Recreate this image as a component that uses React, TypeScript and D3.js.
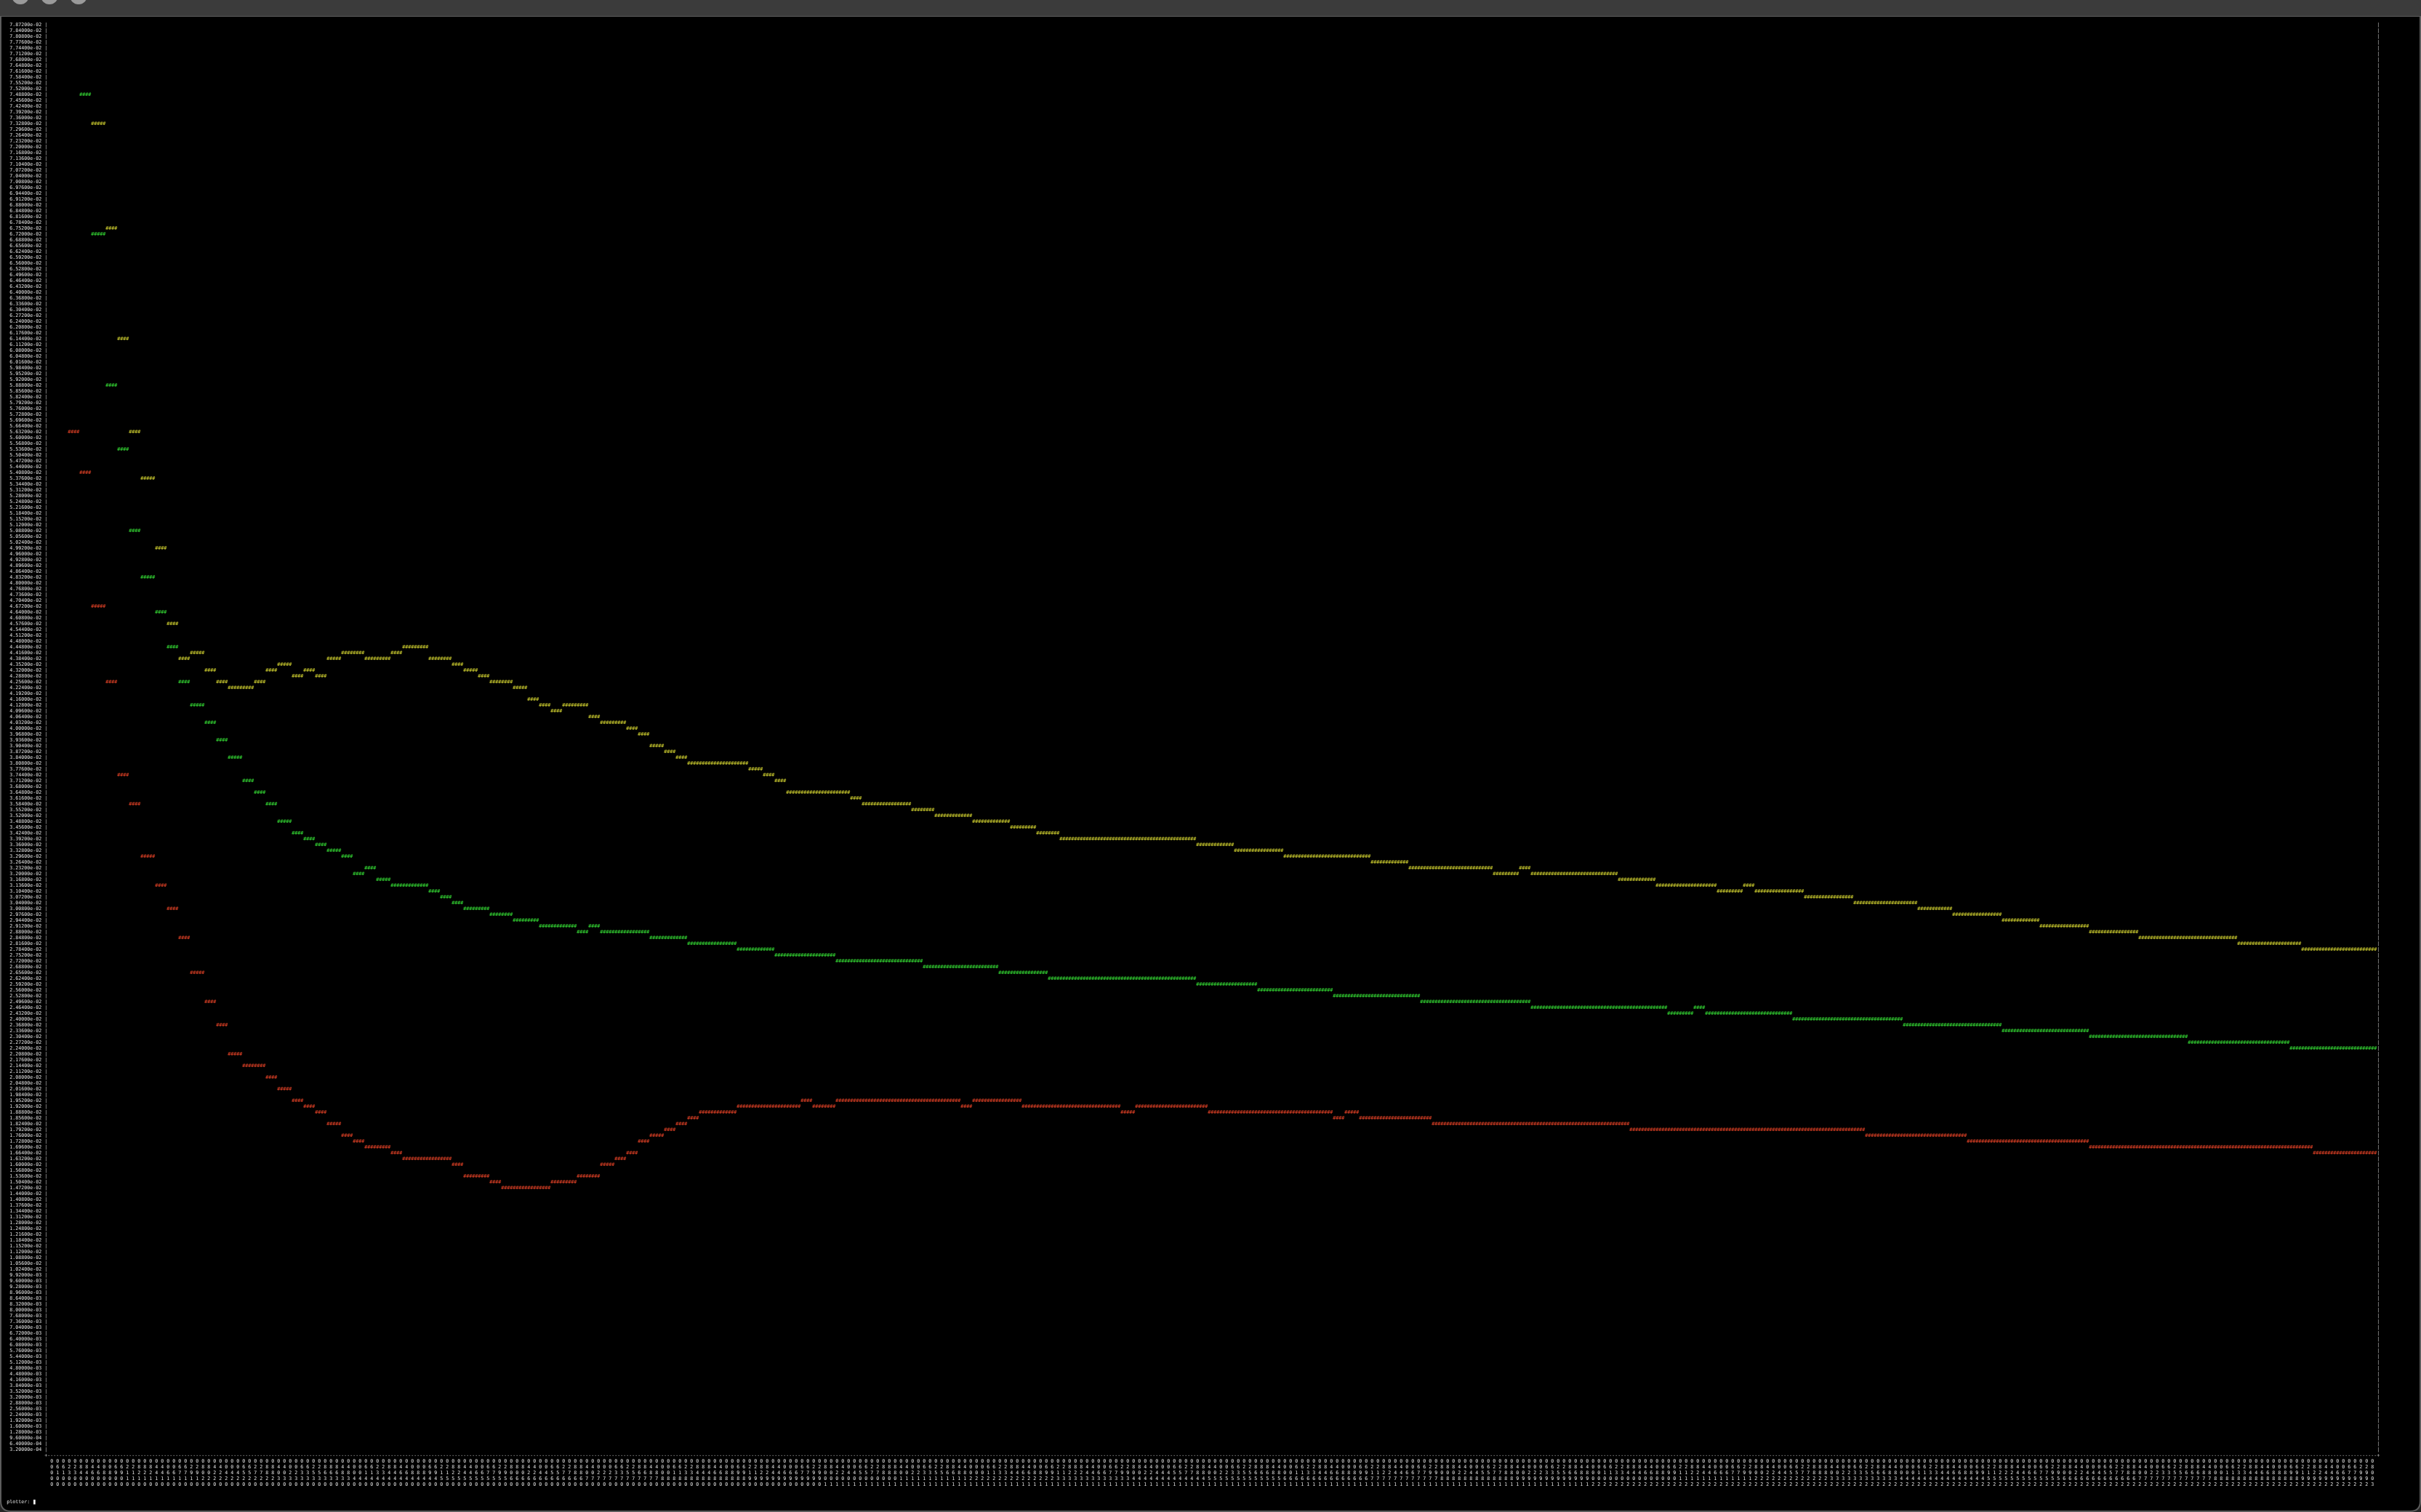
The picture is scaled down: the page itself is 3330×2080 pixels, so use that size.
import React from 'react'
import * as d3 from 'd3'

// sample counts on the x axis, one point every 160
const xSamples = d3.range(0, 30081, 160)

// y tick labels, top to bottom (246 terminal rows)
const yTicks = d3.range(246, 0, -1).map(n => n * 3.2e-4)

// series values, one per sample (null = not plotted)
const yellow = [
  null, null, null, null,
  .07328, .06752, .06144, .05632, .05376, .04992, .04576,
  .04384, .04416, .04320, .04256, .04224, .04224, .04256, .04320, .04352, .04288,
  .04320, .04288, .04384, .04416, .04416, .04384, .04384, .04416, .04448, .04448,
  .04384, .04384, .04352, .04320, .04288, .04256, .04256, .04224, .04160, .04128,
  .04096, .04128, .04128, .04064, .04032, .04032, .04000, .03968, .03904, .03872,
  .03840, .03808, .03808, .03808, .03808, .03808, .03776, .03744, .03712, .03648,
  .03648, .03648, .03648, .03648, .03616, .03584, .03584, .03584, .03584, .03552,
  .03552, .03520, .03520, .03520, .03488, .03488, .03488, .03456, .03456, .03424,
  .03424, .03392, .03392, .03392, .03392, .03392, .03392, .03392, .03392, .03392,
  .03392, .03392, .03360, .03360, .03360, .03328, .03328, .03328, .03328, .03296,
  .03296, .03296, .03296, .03296, .03296, .03296, .03264, .03264, .03264, .03232,
  .03232, .03232, .03232, .03232, .03232, .03232, .03200, .03200, .03232, .03200,
  .03200, .03200, .03200, .03200, .03200, .03200, .03168, .03168, .03168, .03136,
  .03136, .03136, .03136, .03136, .03104, .03104, .03136, .03104, .03104, .03104,
  .03104, .03072, .03072, .03072, .03072, .03040, .03040, .03040, .03040, .03040,
  .03008, .03008, .03008, .02976, .02976, .02976, .02976, .02944, .02944, .02944,
  .02912, .02912, .02912, .02912, .02880, .02880, .02880, .02880, .02848, .02848,
  .02848, .02848, .02848, .02848, .02848, .02848, .02816, .02816, .02816, .02816,
  .02816, .02784, .02784, .02784, .02784, .02784, .02784, .02784,
]

const green = [
  null, null, null,
  .07488, .06720, .05888, .05536, .05088, .04832, .04640, .04448,
  .04256, .04128, .04032, .03936, .03840, .03712, .03648, .03584, .03488, .03424,
  .03392, .03360, .03328, .03296, .03200, .03232, .03168, .03136, .03136, .03136,
  .03104, .03072, .03040, .03008, .03008, .02976, .02976, .02944, .02944, .02912,
  .02912, .02912, .02880, .02912, .02880, .02880, .02880, .02880, .02848, .02848,
  .02848, .02816, .02816, .02816, .02816, .02784, .02784, .02784, .02752, .02752,
  .02752, .02752, .02752, .02720, .02720, .02720, .02720, .02720, .02720, .02720,
  .02688, .02688, .02688, .02688, .02688, .02688, .02656, .02656, .02656, .02656,
  .02624, .02624, .02624, .02624, .02624, .02624, .02624, .02624, .02624, .02624,
  .02624, .02624, .02592, .02592, .02592, .02592, .02592, .02560, .02560, .02560,
  .02560, .02560, .02560, .02528, .02528, .02528, .02528, .02528, .02528, .02528,
  .02496, .02496, .02496, .02496, .02496, .02496, .02496, .02496, .02496, .02464,
  .02464, .02464, .02464, .02464, .02464, .02464, .02464, .02464, .02464, .02464,
  .02432, .02432, .02464, .02432, .02432, .02432, .02432, .02432, .02432, .02432,
  .02400, .02400, .02400, .02400, .02400, .02400, .02400, .02400, .02400, .02368,
  .02368, .02368, .02368, .02368, .02368, .02368, .02368, .02336, .02336, .02336,
  .02336, .02336, .02336, .02336, .02304, .02304, .02304, .02304, .02304, .02304,
  .02304, .02304, .02272, .02272, .02272, .02272, .02272, .02272, .02272, .02272,
  .02240, .02240, .02240, .02240, .02240, .02240, .02240, .02240,
]

const red = [
  null, null,
  .05632, .05408, .04672, .04256, .03744, .03584, .03296, .03136, .03008,
  .02848, .02656, .02496, .02368, .02208, .02144, .02144, .02080, .02016, .01952,
  .01920, .01888, .01824, .01760, .01728, .01696, .01696, .01664, .01632, .01632,
  .01632, .01632, .01600, .01536, .01536, .01504, .01472, .01472, .01472, .01472,
  .01504, .01504, .01536, .01536, .01600, .01632, .01664, .01728, .01760, .01792,
  .01824, .01856, .01888, .01888, .01888, .01920, .01920, .01920, .01920, .01920,
  .01952, .01920, .01920, .01952, .01952, .01952, .01952, .01952, .01952, .01952,
  .01952, .01952, .01952, .01920, .01952, .01952, .01952, .01952, .01920, .01920,
  .01920, .01920, .01920, .01920, .01920, .01920, .01888, .01920, .01920, .01920,
  .01920, .01920, .01920, .01888, .01888, .01888, .01888, .01888, .01888, .01888,
  .01888, .01888, .01888, .01856, .01888, .01856, .01856, .01856, .01856, .01856,
  .01856, .01824, .01824, .01824, .01824, .01824, .01824, .01824, .01824, .01824,
  .01824, .01824, .01824, .01824, .01824, .01824, .01824, .01792, .01792, .01792,
  .01792, .01792, .01792, .01792, .01792, .01792, .01792, .01792, .01792, .01792,
  .01792, .01792, .01792, .01792, .01792, .01792, .01760, .01760, .01760, .01760,
  .01760, .01760, .01760, .01760, .01728, .01728, .01728, .01728, .01728, .01728,
  .01728, .01728, .01728, .01728, .01696, .01696, .01696, .01696, .01696, .01696,
  .01696, .01696, .01696, .01696, .01696, .01696, .01696, .01696, .01696, .01696,
  .01696, .01696, .01664, .01664, .01664, .01664, .01664, .01664,
]

const series = [
  { name: 'yellow', data: yellow, color: '#bcbc2c' },
  { name: 'green', data: green, color: '#2fc42e' },
  { name: 'red', data: red, color: '#cc3b22' },
]

// terminal grid: 4px cells, 8px rows
const col = d3.scaleLinear().domain([0, 1]).range([1.3, 5.3])
const row = d3.scaleLinear().domain([0, 1]).range([35.7, 43.7])
const rowOf = d3.scaleLinear().domain([yTicks[0], yTicks[yTicks.length - 1]]).range([0, yTicks.length - 1])

const W = 3330
const H = 2080
const PLOT_COL = 17
const CELLS = 800
const STEP = 187.5 / CELLS // samples per cell
const FONT = '"DejaVu Sans Mono", monospace'

const xs = (g0: number, n: number) => d3.range(n).map(j => col(g0 + j).toFixed(2)).join(' ')

const fmt = (v: number) => {
  const [m, e] = v.toExponential(5).split('e')
  return `${m}e${e[0]}${e.slice(1).padStart(2, '0')}`
}

function runs(data: (number | null)[]) {
  const out: { r: number; start: number; end: number }[] = []
  let cur: { r: number; start: number; end: number } | null = null
  for (let c = 0; c < CELLS; c++) {
    const i = Math.max(0, Math.ceil((c - 1) * STEP))
    const v = data[i]
    if (v == null) { cur = null; continue }
    const r = Math.round(rowOf(v))
    if (cur && cur.r === r && cur.end === c - 1) cur.end = c
    else { cur = { r, start: c, end: c }; out.push(cur) }
  }
  return out
}

// x labels: one per pair of cells, digits written top-down starting with the units
const xLabelCols = d3.range(CELLS / 2).map(k => xSamples[Math.ceil(k * STEP * 2)])

export default function App() {
  const nRows = yTicks.length
  return (
    <div>
      <style>{`body{margin:0;background:#000;}`}</style>
      <svg width={W} height={H} style={{ display: 'block' }} fontFamily={FONT} fontSize={6.644}>
        <defs>
          {/* rasterise text offscreen so it gets plain grey antialiasing */}
          <filter id="flat" x={0} y={0} width={W} height={H} filterUnits="userSpaceOnUse">
            <feComponentTransfer><feFuncA type="identity" /></feComponentTransfer>
          </filter>
        </defs>
        <rect width={W} height={H} fill="#262626" />
        <path d="M1,22 H3329 V2065 Q3329,2079 3315,2079 H15 Q1,2079 1,2065 Z" fill="#000" stroke="#5c5c5c" strokeWidth={2} />
        <rect width={W} height={22} fill="#3b3b3b" />
        {[28, 68, 108].map(cx => <circle key={cx} cx={cx} cy={-6} r={12} fill="#9a9a9a" />)}

        <g filter="url(#flat)">
          {/* y labels and frame */}
          <g fill="#e6e6e6">
            {yTicks.map((v, n) => <text key={n} x={xs(3, 11)} y={row(n)}>{fmt(v)}</text>)}
          </g>
          <g fill="#c8c8c8">
            {d3.range(nRows).map(n => <text key={'l' + n} x={col(15)} y={row(n)}>|</text>)}
            {d3.range(nRows).map(n => <text key={'r' + n} x={col(PLOT_COL + CELLS)} y={row(n)}>|</text>)}
            <text x={xs(15, CELLS + 3)} y={row(nRows)}>{'+' + '-'.repeat(CELLS + 1) + '+'}</text>
          </g>

          {/* x labels */}
          <g fill="#e6e6e6">
            {d3.range(5).map(d => (
              <text key={d} x={xLabelCols.map((_, k) => col(PLOT_COL + 2 * k).toFixed(2)).join(' ')} y={row(nRows + 1 + d)}>
                {xLabelCols.map(v => String(v).padStart(5, '0').split('').reverse()[d]).join('')}
              </text>
            ))}
          </g>

          {/* points */}
          {series.map(s => (
            <g key={s.name} fill={s.color} fontWeight="bold">
              {runs(s.data).map((run, j) => (
                <text key={j} x={xs(PLOT_COL + run.start, run.end - run.start + 1)} y={row(run.r)}>
                  {'#'.repeat(run.end - run.start + 1)}
                </text>
              ))}
            </g>
          ))}

          {/* prompt */}
          <text x={xs(2, 8)} y={row(nRows + 8)} fill="#e6e6e6">plotter:</text>
        </g>
        <rect x={46} y={2063} width={2.7} height={6.5} fill="#f2f2f2" />
      </svg>
    </div>
  )
}
